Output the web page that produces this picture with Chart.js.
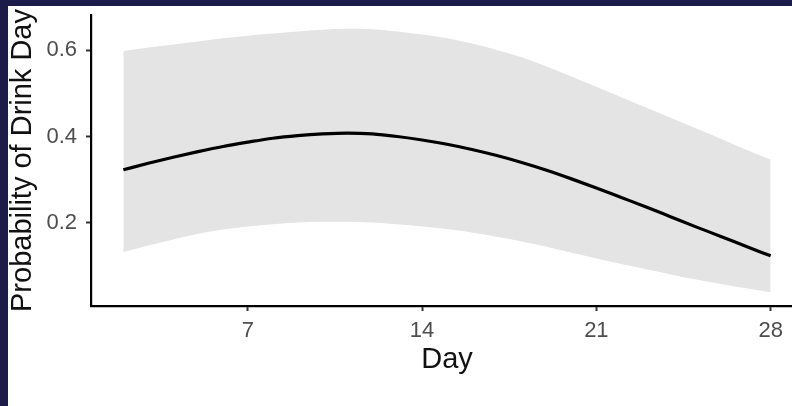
<!DOCTYPE html>
<html>
<head>
<meta charset="utf-8">
<script src="https://cdn.jsdelivr.net/npm/chart.js@4.4.0/dist/chart.umd.min.js"></script>
<style>
  html, body { margin: 0; padding: 0; background: #1b1c4a; overflow: hidden; width: 792px; height: 406px; }
  #wrap { position: absolute; left: 8px; top: 6px; width: 800px; height: 400px; background: #fff; }
</style>
</head>
<body>
<div id="wrap"><canvas id="chart"></canvas></div>
<script>
// days 2..28
const days = [2,3,4,5,6,7,8,9,10,11,12,13,14,15,16,17,18,19,20,21,22,23,24,25,26,27,28];
const prob = [0.323,0.338,0.352,0.365,0.377,0.387,0.396,0.402,0.406,0.408,0.406,0.400,0.392,0.382,0.370,0.356,0.340,0.322,0.302,0.281,0.259,0.237,0.214,0.191,0.169,0.146,0.124];
const upper = [0.598,0.606,0.613,0.620,0.627,0.633,0.638,0.643,0.647,0.649,0.648,0.643,0.636,0.627,0.615,0.600,0.583,0.562,0.539,0.515,0.491,0.467,0.443,0.419,0.395,0.370,0.346];
const lower = [0.133,0.148,0.162,0.175,0.185,0.192,0.197,0.201,0.203,0.203,0.201,0.197,0.192,0.186,0.178,0.168,0.157,0.145,0.131,0.118,0.105,0.093,0.081,0.069,0.059,0.049,0.040];
const xTicks = [7,14,21,28];
const yTicks = [0.2,0.4,0.6];

function pts(arr){
    return days.map((d,i)=>({x:d, y:arr[i]}));
}

const tickFont = {family: "'Liberation Sans', Arial, sans-serif", size: 22};
const titleFont = {family: "'Liberation Sans', Arial, sans-serif", size: 29, lineHeight: 1};

new Chart(document.getElementById("chart"), {
    type: 'line',
    data: {
        datasets: [
            {
                label: 'lower',
                data: pts(lower),
                borderWidth: 0,
                pointRadius: 0,
                fill: false,
                cubicInterpolationMode: 'monotone',
                order: 1
            },
            {
                label: 'upper',
                data: pts(upper),
                borderWidth: 0,
                pointRadius: 0,
                backgroundColor: '#e4e4e4',
                fill: '-1',
                cubicInterpolationMode: 'monotone',
                order: 1
            },
            {
                label: 'prob',
                data: pts(prob),
                borderColor: '#000',
                borderWidth: 3.2,
                pointRadius: 0,
                fill: false,
                cubicInterpolationMode: 'monotone',
                order: 0
            }
        ]
    },
    options: {
        responsive: true,
        maintainAspectRatio: false,
        animation: false,
        layout: { padding: { top: 9, right: 5, left: 0, bottom: 0 } },
        plugins: { legend: { display: false }, tooltip: { enabled: false } },
        scales: {
            x: {
                type: 'linear',
                min: 0.7,
                max: 29.3,
                afterFit: s => { s.height = 100; s.paddingLeft = 0; s.paddingRight = 0; },
                afterBuildTicks: s => { s.ticks = xTicks.map(v => ({value: v})); },
                grid: { drawOnChartArea: false, tickLength: 5, tickColor: '#333', tickWidth: 2 },
                border: { color: '#000', width: 2.2 },
                ticks: { color: '#4d4d4d', font: tickFont, padding: 7, maxRotation: 0, callback: v => String(v) },
                title: { display: true, text: 'Day', color: '#111', font: titleFont, padding: { top: 0, bottom: 32 } }
            },
            y: {
                min: 0.008,
                max: 0.681,
                afterFit: s => { s.width = 83; s.paddingTop = 0; s.paddingBottom = 0; },
                afterBuildTicks: s => { s.ticks = yTicks.map(v => ({value: v})); },
                grid: { drawOnChartArea: false, tickLength: 5, tickColor: '#333', tickWidth: 2 },
                border: { color: '#000', width: 2.2 },
                ticks: { color: '#4d4d4d', font: tickFont, padding: 9, callback: v => v.toFixed(1) },
                title: { display: true, text: 'Probability of Drink Day', color: '#111', font: titleFont, padding: { top: 0, bottom: 0 } }
            }
        }
    }
});
</script>
</body>
</html>
